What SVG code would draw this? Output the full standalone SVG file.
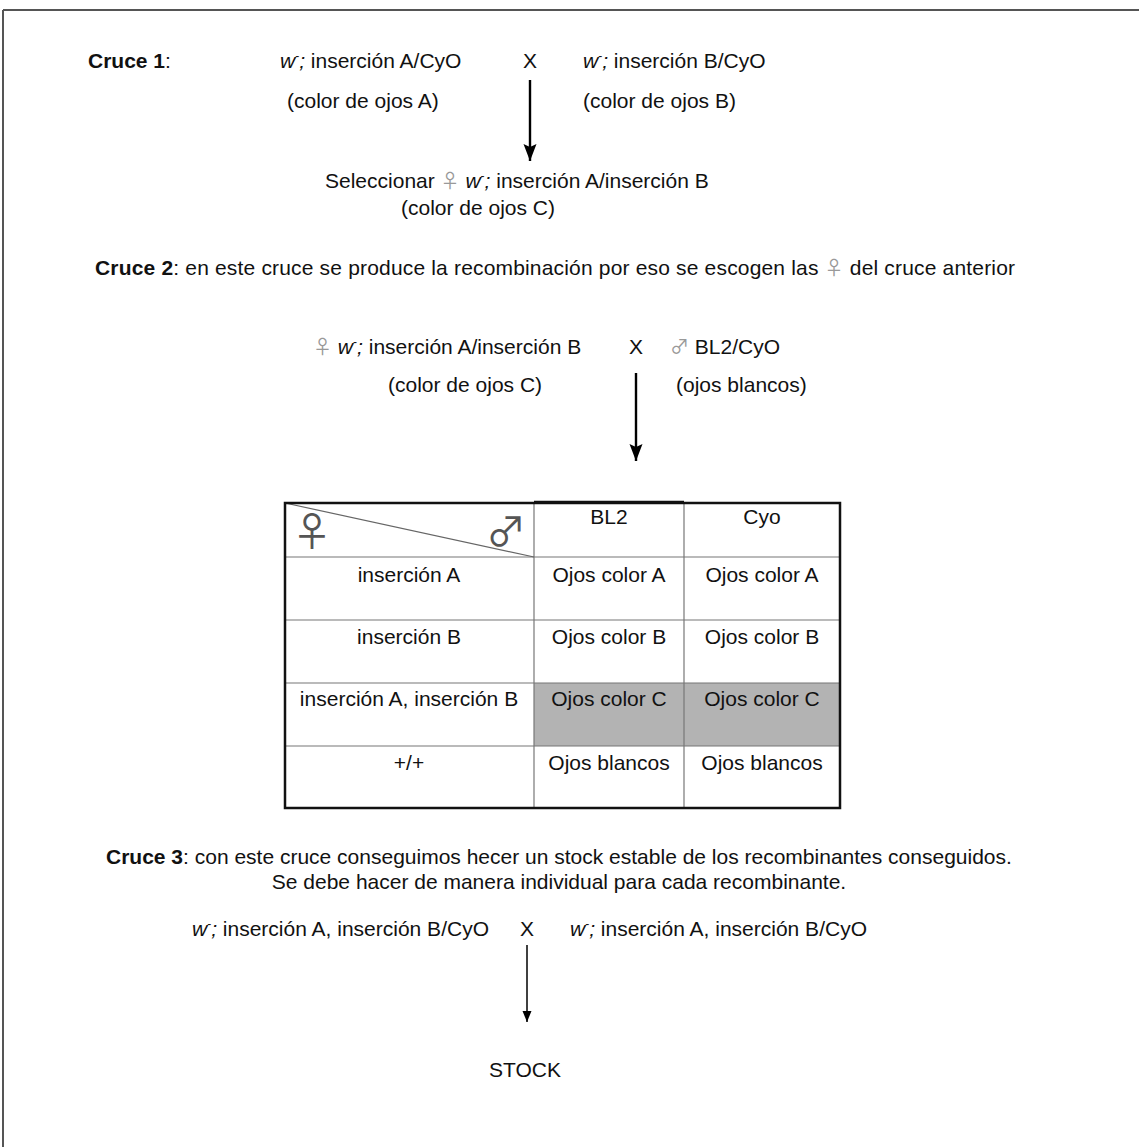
<svg xmlns="http://www.w3.org/2000/svg" width="1139" height="1147" viewBox="0 0 1139 1147">
<style>
text{font-family:"Liberation Sans",Arial,sans-serif;font-size:21px;fill:#111}
.b{font-weight:bold}
.i{font-style:italic}
.sym{fill:#999;font-family:"Noto Sans CJK JP","DejaVu Sans",sans-serif;font-size:19px}
.sup{font-size:12px}
.m{text-anchor:middle}
.grid{stroke:#777;stroke-width:1.2;fill:none}
.big{font-family:"Noto Sans CJK JP","DejaVu Sans",sans-serif;font-size:40px;fill:#555;text-anchor:middle}
.arr{stroke:#000;fill:none}
</style>
<defs>
<marker id="ah" markerUnits="userSpaceOnUse" markerWidth="18" markerHeight="14" refX="17" refY="6.5" orient="auto" viewBox="0 0 18 14">
<path d="M0,0 L17,6.5 L0,13 L3,6.5 Z" fill="#000"/>
</marker>
<marker id="ah2" markerUnits="userSpaceOnUse" markerWidth="12" markerHeight="10" refX="11" refY="4.5" orient="auto" viewBox="0 0 12 10">
<path d="M0,0 L11,4.5 L0,9 Z" fill="#000"/>
</marker>
</defs>
<rect width="1139" height="1147" fill="#fff"/>
<g id="frame">
<line x1="3" y1="10" x2="1139" y2="10" stroke="#555" stroke-width="2"/>
<line x1="3" y1="10" x2="3" y2="1147" stroke="#555" stroke-width="2"/>
</g>

<g id="cruce1">
<text x="88" y="68"><tspan class="b">Cruce 1</tspan>:</text>
<text x="280" y="68"><tspan class="i">w</tspan><tspan class="sup" dy="-8">-</tspan><tspan class="i" dy="8">;</tspan>  inserción A/CyO</text>
<text x="530" y="68" class="m">X</text>
<text x="583" y="68"><tspan class="i">w</tspan><tspan class="sup" dy="-8">-</tspan><tspan class="i" dy="8">;</tspan> inserción B/CyO</text>
<text x="287" y="108">(color de ojos A)</text>
<text x="583" y="108">(color de ojos B)</text>
</g>
<g id="seleccion">
<text x="325" y="188">Seleccionar <tspan class="sym">♀</tspan> <tspan class="i">w</tspan><tspan class="sup" dy="-8">-</tspan><tspan class="i" dy="8">;</tspan> inserción A/inserción B</text>
<text x="478" y="215" class="m">(color de ojos C)</text>
</g>

<g id="cruce2">
<text x="95" y="275" textLength="920" lengthAdjust="spacing"><tspan class="b">Cruce 2</tspan>: en este cruce se produce la recombinación por eso se escogen las <tspan class="sym">♀</tspan> del cruce anterior</text>
<text x="313" y="354"><tspan class="sym">♀</tspan> <tspan class="i">w</tspan><tspan class="sup" dy="-8">-</tspan><tspan class="i" dy="8">;</tspan> inserción A/inserción B</text>
<text x="636" y="354" class="m">X</text>
<text x="670" y="354"><tspan class="sym">♂</tspan> BL2/CyO</text>
<text x="388" y="392">(color de ojos C)</text>
<text x="676" y="392">(ojos blancos)</text>
</g>

<g id="tabla">
<rect x="534" y="683" width="306" height="63" fill="#b3b3b3"/>
<line class="grid" x1="285" y1="557" x2="840" y2="557"/>
<line class="grid" x1="285" y1="620" x2="840" y2="620"/>
<line class="grid" x1="285" y1="683" x2="840" y2="683"/>
<line class="grid" x1="285" y1="746" x2="840" y2="746"/>
<line class="grid" x1="534" y1="503" x2="534" y2="808"/>
<line class="grid" x1="684" y1="503" x2="684" y2="808"/>
<line x1="285" y1="503" x2="534" y2="557" stroke="#666" stroke-width="1.2"/>
<rect x="285" y="503" width="555" height="305" fill="none" stroke="#111" stroke-width="2.5"/>
<line x1="534" y1="502" x2="684" y2="502" stroke="#111" stroke-width="2.5"/>
<text x="312" y="546" class="big">♀</text>
<text x="506" y="546" class="big">♂</text>
<text x="609" y="524" class="m">BL2</text>
<text x="762" y="524" class="m">Cyo</text>
<text x="409" y="582" class="m">inserción A</text>
<text x="609" y="582" class="m">Ojos color A</text>
<text x="762" y="582" class="m">Ojos color A</text>
<text x="409" y="644" class="m">inserción B</text>
<text x="609" y="644" class="m">Ojos color B</text>
<text x="762" y="644" class="m">Ojos color B</text>
<text x="409" y="706" class="m">inserción A, inserción B</text>
<text x="609" y="706" class="m">Ojos color C</text>
<text x="762" y="706" class="m">Ojos color C</text>
<text x="409" y="770" class="m">+/+</text>
<text x="609" y="770" class="m">Ojos blancos</text>
<text x="762" y="770" class="m">Ojos blancos</text>
</g>

<g id="cruce3">
<text x="106" y="864"><tspan class="b">Cruce 3</tspan>: con este cruce conseguimos hecer un stock estable de los recombinantes conseguidos.</text>
<text x="559" y="889" class="m">Se debe hacer de manera individual para cada recombinante.</text>
<text x="192" y="936"><tspan class="i">w</tspan><tspan class="sup" dy="-8">-</tspan><tspan class="i" dy="8">;</tspan> inserción A, inserción B/CyO</text>
<text x="527" y="936" class="m">X</text>
<text x="570" y="936"><tspan class="i">w</tspan><tspan class="sup" dy="-8">-</tspan><tspan class="i" dy="8">;</tspan> inserción A, inserción B/CyO</text>
<text x="525" y="1077" class="m">STOCK</text>
</g>

<g id="connectors">
<line class="arr" x1="530" y1="80" x2="530" y2="161" stroke-width="2.4" marker-end="url(#ah)"/>
<line class="arr" x1="636" y1="373" x2="636" y2="461" stroke-width="2.4" marker-end="url(#ah)"/>
<line class="arr" x1="527" y1="945" x2="527" y2="1022" stroke-width="1.5" marker-end="url(#ah2)"/>
</g>
</svg>
